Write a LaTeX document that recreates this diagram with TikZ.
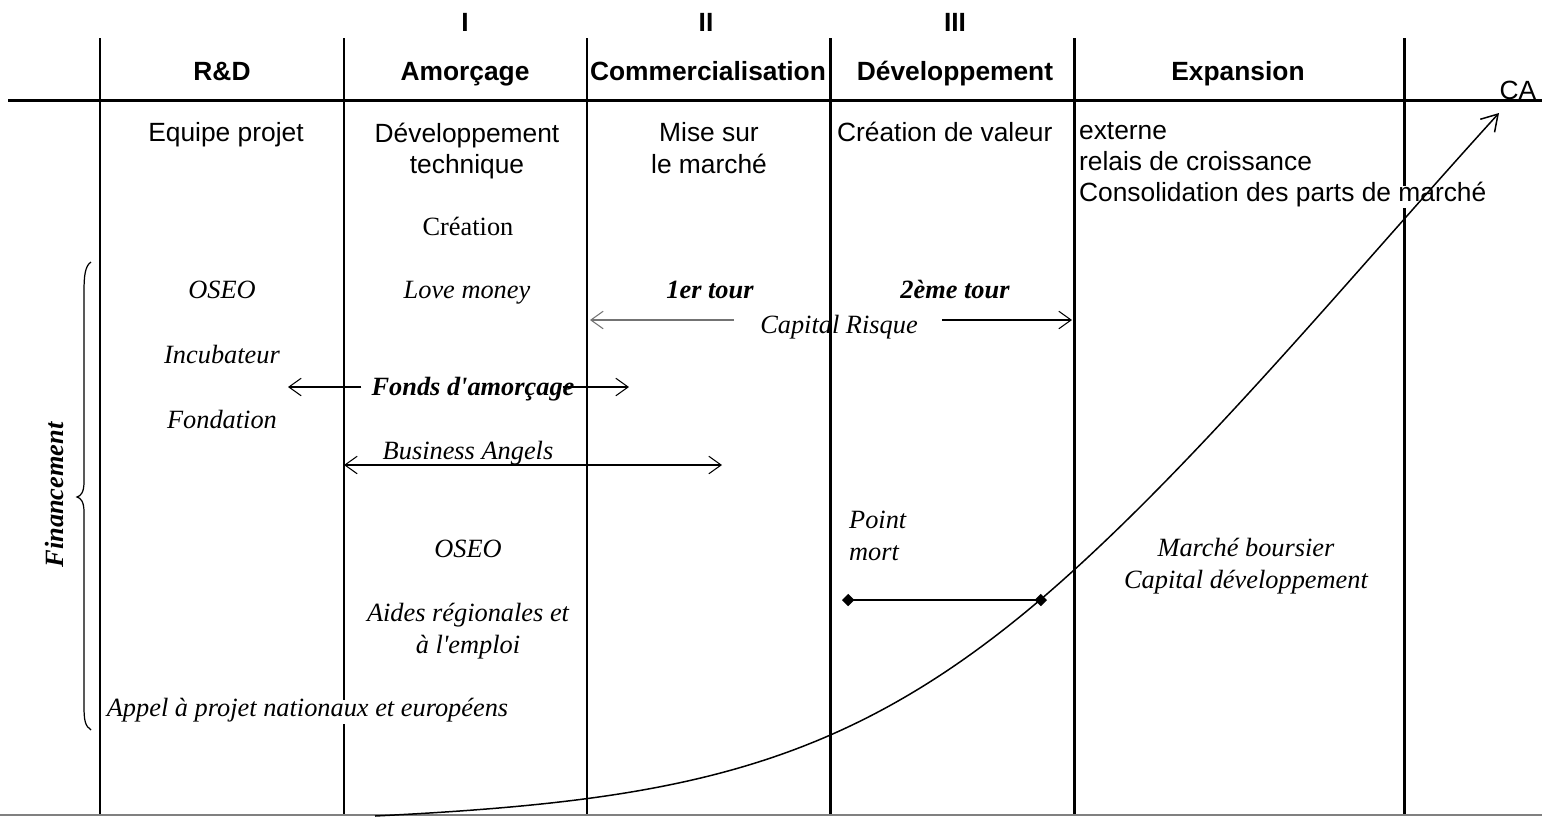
\documentclass[tikz,border=0pt]{standalone}
\usepackage{fontspec}
\setmainfont{Liberation Serif}
\setsansfont{Liberation Sans}
\usetikzlibrary{arrows.meta,positioning,calc}

\tikzset{
  phaseline/.style={line width=1.7pt},
  oneline/.style={text height=0.7em, text depth=0.2em},
  head/.style={font=\sffamily\bfseries\fontsize{15}{18}\selectfont, oneline},
  stage/.style={font=\sffamily\fontsize{15}{18}\selectfont, align=center},
  fund/.style={font=\itshape\fontsize{15}{18}\selectfont, align=center},
  fundb/.style={font=\bfseries\itshape\fontsize{15}{18}\selectfont, oneline},
  barb/.style={line width=0.6pt, -{Straight Barb[length=7pt,width=10pt]}},
  barbboth/.style={line width=0.6pt, {Straight Barb[length=7pt,width=10pt]}-{Straight Barb[length=7pt,width=10pt]}},
}

\begin{document}
\begin{tikzpicture}[x=0.02cm,y=-0.02cm]
    \useasboundingbox (0,0) rectangle (1542,816);

    % Phase lines
    \foreach \x in {100,344,587,830,1074,1404} {
        \draw[phaseline] (\x,38) -- (\x,816);
    }
    \draw[phaseline] (8,100) -- (1542,100);
    \draw[gray, line width=1pt] (0,815) -- (1542,815);

    % Roman numerals
    \node[head] (num1) at (465,27) {I};
    \node[head] (num2) at (706,27) {II};
    \node[head] (num3) at (955,27) {III};

    % Phases
    \node[head] (rd) at (222,76) {R\&D};
    \node[head] (amorcage) at (465,76) {Amorçage};
    \node[head] (commerc) at (708,76) {Commercialisation};
    \node[head] (dev) at (955,76) {Développement};
    \node[head] (expansion) at (1238,76) {Expansion};
    \node[stage, oneline] (ca) at (1518,95) {CA};

    % Stage contents
    \node[stage, oneline] (equipe) at (226,137) {Equipe projet};
    \node[stage] (devtech) at (467,151) {Développement\\technique};
    \node[stage] (mise) at (709,148) {Mise sur\\le marché};
    \node[stage, oneline, anchor=west, inner sep=1pt] (valeur) at (835,137) {Création de valeur};
    \node[stage, oneline, anchor=west, inner sep=1pt] (externe) at (1077,135) {externe};
    \node[stage, oneline, anchor=west, inner sep=1pt] (relais) at (1077,166) {relais de croissance};
    \node[stage, oneline, anchor=west, inner xsep=1pt, inner ysep=2pt, fill=white] (consol) at (1077,197) {Consolidation des parts de marché};
    \node[font=\fontsize{15}{18}\selectfont, oneline] (creation) at (468,231) {Création};

    % Financement
    \node[fund, oneline] (oseo1) at (222,294) {OSEO};
    \node[fund, oneline] (love) at (467,294) {Love money};
    \node[fundb] (tour1) at (710,294) {1er tour};
    \node[fundb] (tour2) at (955,294) {2ème tour};
    \node[fund, oneline] (risque) at (839,329) {Capital Risque};
    \node[fund, oneline] (incub) at (222,359) {Incubateur};
    \node[fundb] (fonds) at (473,391) {Fonds d\textquotesingle amorçage};
    \node[fund, oneline] (fondation) at (222,424) {Fondation};
    \node[fund, oneline] (angels) at (468,455) {Business Angels};
    \node[fund, align=left, anchor=west] (pmort) at (843,536) {Point\\mort};
    \node[fund, oneline] (oseo2) at (468,553) {OSEO};
    \node[fund] (boursier) at (1246,566) {Marché boursier\\Capital développement};
    \node[fund] (aides) at (468,631) {Aides régionales et\\à l\textquotesingle emploi};
    \node[fund, oneline, anchor=west, inner xsep=2pt, inner ysep=2.3pt, fill=white] (appel) at (103,712) {Appel à projet nationaux et européens};
    \node[fundb, rotate=90] (financement) at (59,495) {Financement};

    % Arrows
    \coordinate (risque-l) at (590,320);
    \coordinate (risque-r) at (1072,320);
    \draw[barb, black!55] ($(risque.west)+(-20,-9)$) -- (risque-l);
    \draw[barb] ($(risque.east)+(18,-9)$) -- (risque-r);
    \coordinate (fonds-l) at (288,387);
    \coordinate (fonds-r) at (629,387);
    \draw[barb] ($(fonds.west)+(-4,-4)$) -- (fonds-l);
    \draw[barb] ($(fonds.east)+(-18,-4)$) -- (fonds-r);
    \coordinate (angels-l) at (344,465);
    \coordinate (angels-r) at (722,465);
    \draw[barbboth] (angels-l) -- (angels-r);

    % Point mort
    \coordinate (pm-a) at (842,600);
    \coordinate (pm-b) at (1047,600);
    \draw[line width=1.1pt, {Diamond[length=7pt,width=7pt]}-{Diamond[length=7pt,width=7pt]}] (pm-a) -- (pm-b);

    % Brace
    \draw[line width=0.7pt] (91,262) .. controls (85,266) and (84,276) .. (84,292) -- (84,482)
        .. controls (84,492) and (81,496) .. (77,497) .. controls (81,498) and (84,502) .. (84,512)
        -- (84,706) .. controls (84,720) and (85,726) .. (91,730);

    % CA curve
    \coordinate (ca-start) at (375,816);
    \coordinate (ca-mid) at (1040,600);
    \coordinate (ca-end) at (1499,113);
    \draw[line width=0.85pt, -{Straight Barb[length=9pt,width=11pt]}] (ca-start)
        .. controls (675,801) and (840,770) .. (ca-mid)
        .. controls (1190,472) and (1349,278) .. (ca-end);

\end{tikzpicture}
\end{document}
